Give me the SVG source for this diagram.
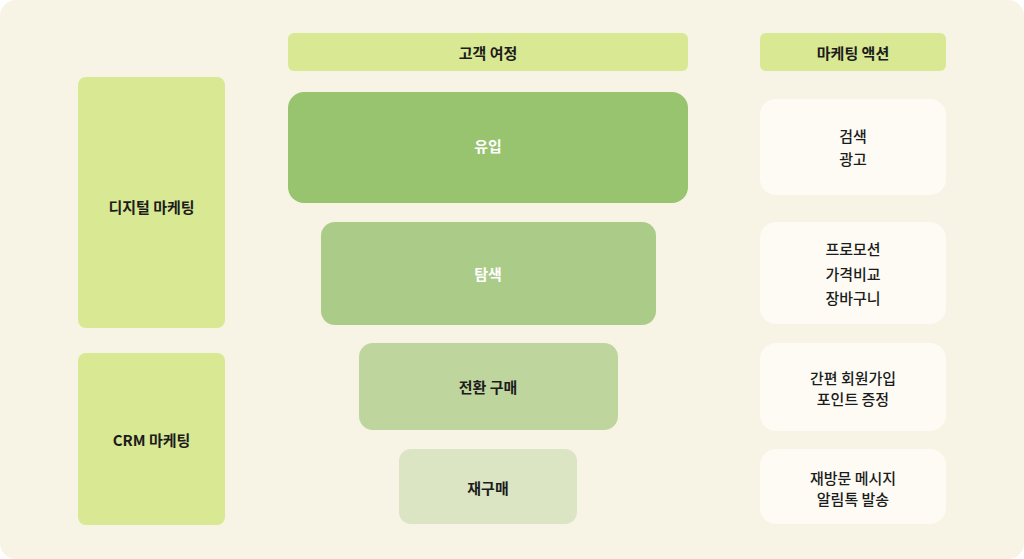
<svg xmlns="http://www.w3.org/2000/svg" width="1024" height="559" viewBox="0 0 1024 559">
<style>
.t{font-family:"Noto Sans CJK KR","Noto Sans",sans-serif;font-size:15px;fill:#1c1c1c;text-anchor:middle;dominant-baseline:central}
.b{font-weight:700}
.m{font-weight:500}
.w{fill:#ffffff}
.hd{fill:#D9E892}
.act{fill:#FDFBF3}
</style>
<rect x="0" y="0" width="1024" height="559" fill="#ffffff"/>
<rect x="0" y="0" width="1024" height="559" rx="16" fill="#F7F4E6"/>
<g id="header-journey"><rect class="hd" x="288" y="33" width="400" height="38" rx="6"/><text class="t b" x="488" y="52">고객 여정</text></g>
<g id="header-action"><rect class="hd" x="760" y="33" width="186" height="38" rx="6"/><text class="t b" x="853" y="52">마케팅 액션</text></g>
<g id="digital"><rect class="hd" x="78" y="77" width="147" height="251" rx="8"/><text class="t b" x="151.5" y="206">디지털 마케팅</text></g>
<g id="crm"><rect class="hd" x="78" y="353" width="147" height="172" rx="8"/><text class="t b" x="151.5" y="439">CRM 마케팅</text></g>
<g id="inflow"><rect x="288" y="92" width="400" height="111" rx="16" fill="#98C36F"/><text class="t b w" x="488" y="145">유입</text></g>
<g id="explore"><rect x="321" y="222" width="335" height="103" rx="14" fill="#ABCB88"/><text class="t b w" x="488" y="273">탐색</text></g>
<g id="convert"><rect x="359" y="343" width="259" height="87" rx="14" fill="#BFD59E"/><text class="t b" x="488" y="386">전환 구매</text></g>
<g id="repurchase"><rect x="399" y="449" width="178" height="75" rx="12" fill="#DBE5C3"/><text class="t b" x="488" y="487">재구매</text></g>
<g id="act1"><rect class="act" x="760" y="99" width="186" height="96" rx="16"/><text class="t m" x="853" y="135">검색</text><text class="t m" x="853" y="158">광고</text></g>
<g id="act2"><rect class="act" x="760" y="222" width="186" height="102" rx="16"/><text class="t m" x="853" y="248">프로모션</text><text class="t m" x="853" y="273">가격비교</text><text class="t m" x="853" y="297">장바구니</text></g>
<g id="act3"><rect class="act" x="760" y="343" width="186" height="88" rx="16"/><text class="t m" x="853" y="377">간편 회원가입</text><text class="t m" x="853" y="398">포인트 증정</text></g>
<g id="act4"><rect class="act" x="760" y="449" width="186" height="75" rx="16"/><text class="t m" x="853" y="477">재방문 메시지</text><text class="t m" x="853" y="498">알림톡 발송</text></g>
<g id="connectors"></g>
</svg>
